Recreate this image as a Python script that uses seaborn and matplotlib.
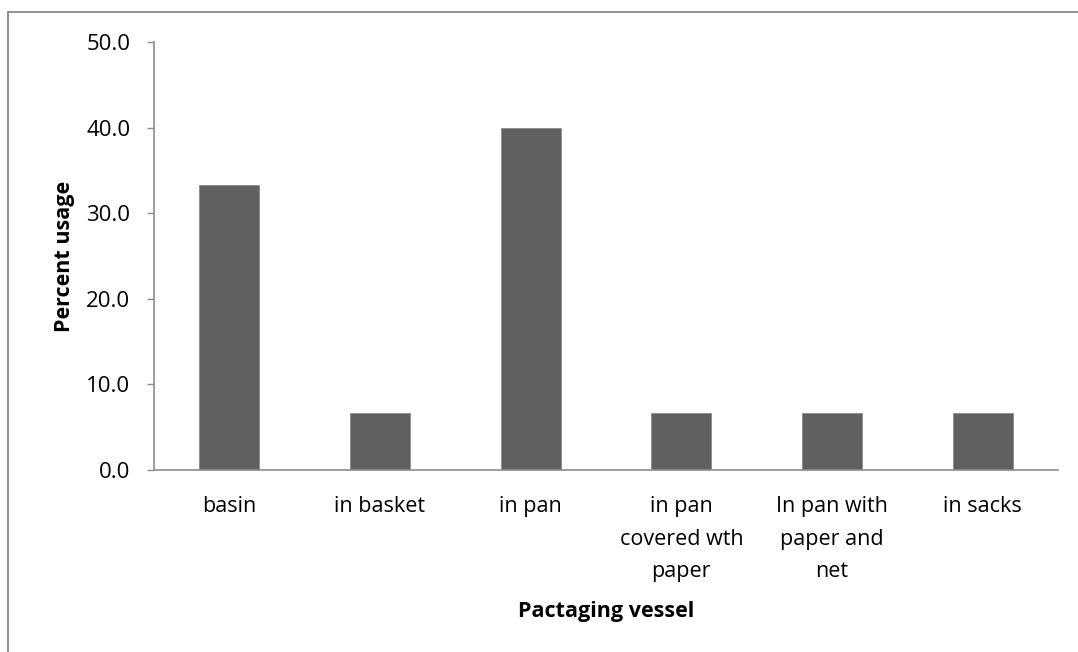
import matplotlib
matplotlib.use("Agg")
import matplotlib.pyplot as plt
import seaborn as sns
import pandas as pd

categories = ["basin", "in basket", "in pan", "in pan\ncovered wth\npaper",
              "In pan with\npaper and\nnet", "in sacks"]
percent_usage = [33.3, 6.7, 40.0, 6.7, 6.7, 6.7]
y_ticks = [0, 10, 20, 30, 40, 50]

df = pd.DataFrame({"vessel": categories, "usage": percent_usage})

sns.set_theme(style="white")
plt.rcParams["font.family"] = ["Open Sans", "DejaVu Sans"]
plt.rcParams["text.color"] = "black"
plt.rcParams["axes.labelcolor"] = "black"
plt.rcParams["xtick.labelcolor"] = "black"
plt.rcParams["ytick.labelcolor"] = "black"

fig = plt.figure(figsize=(10.78, 6.52), dpi=100)
ax = fig.add_axes([154 / 1078, 1 - 470 / 652, (1058 - 154) / 1078, (470 - 42) / 652])

sns.barplot(data=df, x="vessel", y="usage", color="#606060", width=0.4,
            saturation=1, edgecolor="#8a8a8a", linewidth=0.6, ax=ax)

ax.set_ylim(0, 50)
ax.set_xlim(-0.5, len(categories) - 0.5)
ax.set_yticks(y_ticks)
ax.set_yticklabels([f"{v:.1f}" for v in y_ticks], fontsize=16)
ax.tick_params(axis="x", labelsize=15.5, length=0, pad=19)
ax.tick_params(axis="y", length=5, width=1, color="#8c8c8c", left=True, pad=12)
for lbl in ax.get_xticklabels():
    lbl.set_va("top")
    lbl.set_linespacing(1.7)

for side in ["top", "right"]:
    ax.spines[side].set_visible(False)
for side in ["left", "bottom"]:
    ax.spines[side].set_color("#8c8c8c")
    ax.spines[side].set_linewidth(1.2)

ax.set_xlabel("Pactaging vessel", fontsize=15.5, fontweight="bold", labelpad=14)
ax.set_ylabel("Percent usage", fontsize=15.5, fontweight="bold", labelpad=8)

# outer chart border (only top and left edges are in frame)
fig.add_artist(plt.Rectangle((8 / 1078, -0.1), 1.2, 1 - 12 / 652 + 0.1,
                             transform=fig.transFigure, fill=False,
                             edgecolor="#888888", linewidth=1.3))

fig.savefig("out.png", dpi=100)
